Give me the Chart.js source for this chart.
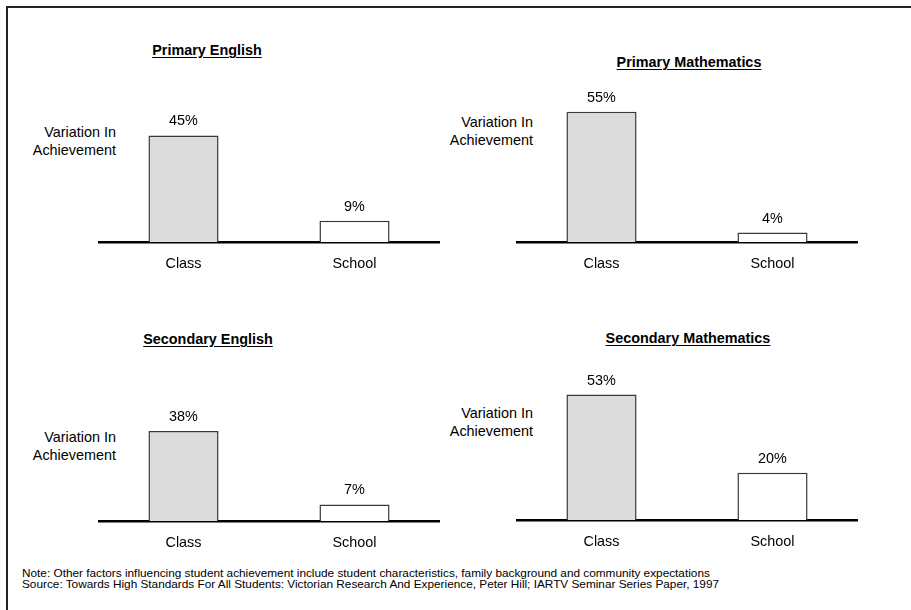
<!DOCTYPE html>
<html>
<head>
<meta charset="utf-8">
<script src="https://cdn.jsdelivr.net/npm/chart.js@4.4.1/dist/chart.umd.min.js"></script>
<style>
  html,body{margin:0;padding:0;background:#fff;}
  body{width:911px;height:610px;position:relative;overflow:hidden;font-family:"Liberation Sans",Arial,sans-serif;color:#000;}
  .frame{position:absolute;left:6px;top:6px;width:1000px;height:700px;border-left:2px solid #222;border-top:2px solid #222;}
  .ttl{position:absolute;font-weight:bold;font-size:14.4px;text-decoration:underline;text-underline-offset:2px;white-space:nowrap;transform:translate(-50%,-50%);}
  .ylab{position:absolute;font-size:14.4px;line-height:18px;text-align:right;white-space:nowrap;}
  canvas{position:absolute;}
  .note{position:absolute;left:22px;top:568px;font-size:11.8px;line-height:11px;white-space:nowrap;}
</style>
</head>
<body>
<div class="frame"></div>

<div class="ttl" style="left:207px;top:50px">Primary English</div>
<div class="ttl" style="left:689px;top:62px">Primary Mathematics</div>
<div class="ttl" style="left:208px;top:339px">Secondary English</div>
<div class="ttl" style="left:688px;top:338px">Secondary Mathematics</div>

<div class="ylab" style="right:795px;top:123px">Variation In<br>Achievement</div>
<div class="ylab" style="right:378px;top:113px">Variation In<br>Achievement</div>
<div class="ylab" style="right:795px;top:428px">Variation In<br>Achievement</div>
<div class="ylab" style="right:378px;top:404px">Variation In<br>Achievement</div>

<canvas id="c1" width="342" height="216" style="left:98px;top:70px"></canvas>
<canvas id="c2" width="342" height="216" style="left:516px;top:70px"></canvas>
<canvas id="c3" width="342" height="216" style="left:98px;top:349px"></canvas>
<canvas id="c4" width="342" height="216" style="left:516px;top:348px"></canvas>

<div class="note">Note: Other factors influencing student achievement include student characteristics, family background and community expectations<br>Source: Towards High Standards For All Students: Victorian Research And Experience, Peter Hill; IARTV Seminar Series Paper, 1997</div>

<script>
const categories=['Class','School'];
const primaryEnglish=[45,9];
const primaryMaths=[55,4];
const secondaryEnglish=[38,7];
const secondaryMaths=[53,20];
const yMax=60;

const font='"Liberation Sans", Arial, sans-serif';

// draws "45%" etc above each bar
const valueLabels={
  id:'valueLabels',
  afterDatasetsDraw(chart){
    const ctx=chart.ctx;
    const ds=chart.data.datasets[0];
    ctx.save();
    ctx.font='14.4px '+font;
    ctx.fillStyle='#000';
    ctx.textAlign='center';
    ctx.textBaseline='middle';
    chart.getDatasetMeta(0).data.forEach((bar,i)=>{
      ctx.fillText(ds.data[i]+'%',bar.x,bar.y-14);
    });
    ctx.restore();
  }
};

function panel(id,values){
  new Chart(document.getElementById(id),{
    type:'bar',
    data:{
      labels:categories,
      datasets:[{
        data:values,
        backgroundColor:['#dcdcdc','#ffffff'],
        borderColor:'#3a3a3a',
        borderWidth:1.5,
        barPercentage:0.41,
        categoryPercentage:1
      }]
    },
    options:{
      responsive:false,
      animation:false,
      layout:{padding:{top:30,left:0,right:0,bottom:0}},
      plugins:{legend:{display:false},tooltip:{enabled:false}},
      scales:{
        y:{display:false,min:0,max:yMax},
        x:{
          grid:{display:false,drawTicks:false},
          border:{display:true,color:'#000',width:2.5},
          ticks:{color:'#000',padding:14,font:{family:font,size:14.4,lineHeight:16/14.4}}
        }
      }
    },
    plugins:[valueLabels]
  });
}

panel('c1',primaryEnglish);
panel('c2',primaryMaths);
panel('c3',secondaryEnglish);
panel('c4',secondaryMaths);
</script>
</body>
</html>
